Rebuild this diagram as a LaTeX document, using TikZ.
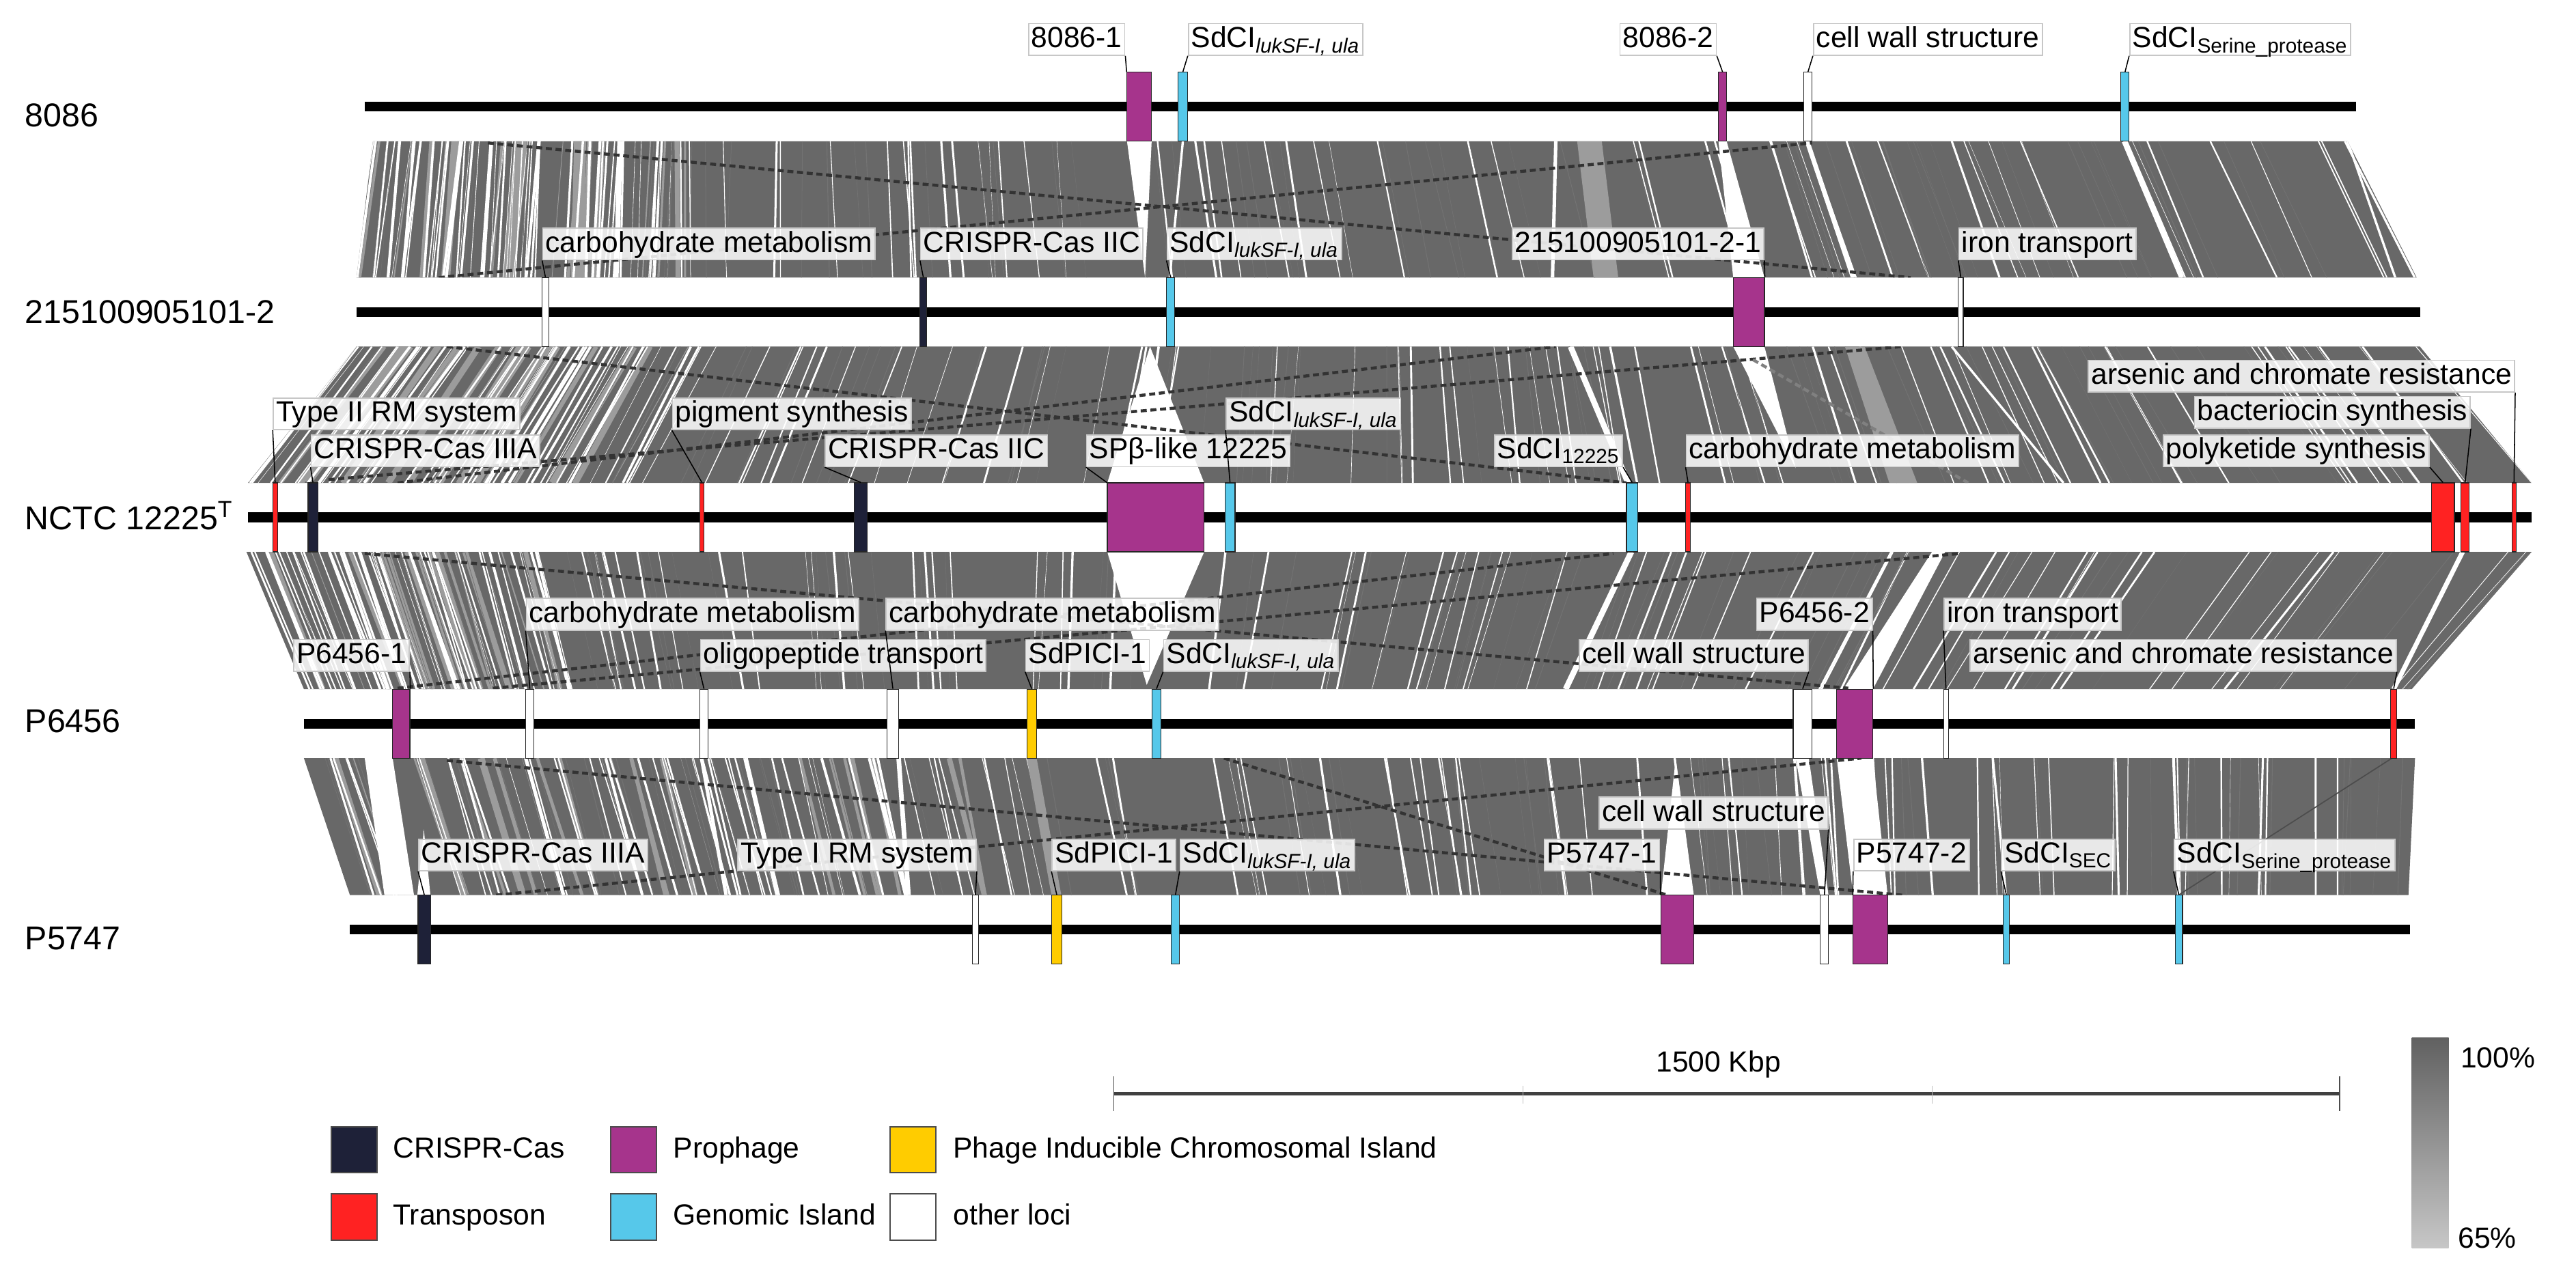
\documentclass[tikz,border=0pt]{standalone}
\usepackage{fontspec}
\setmainfont{Liberation Sans}
\definecolor{navy}{HTML}{1E2138}
\definecolor{phage}{HTML}{A6348C}
\definecolor{pici}{HTML}{FFCC00}
\definecolor{transp}{HTML}{FF2222}
\definecolor{gisl}{HTML}{56C8EA}
\definecolor{bandg}{HTML}{686868}
\definecolor{bandl}{HTML}{9C9C9C}
\tikzset{
 feat/.style={draw=black!85, line width=0.35pt, inner sep=0pt, minimum height=1.05cm},
 lab/.style={fill=white, fill opacity=0.85, text opacity=1, draw=black!22, line width=0.5pt,
   inner xsep=1.2pt, inner ysep=0.8pt, text height=9.5pt, text depth=2.6pt,
   font=\fontsize{12.6}{14}\selectfont},
 lead/.style={draw=black, line width=0.45pt},
 gname/.style={font=\fontsize{14.3}{16}\selectfont, inner sep=0pt, anchor=base west},
 trackbar/.style={line width=4.2pt, black},
 dline/.style={draw=black!80, line width=1.3pt, dash pattern=on 2.6pt off 1.6pt},
 legbox/.style={draw=black!70, line width=0.6pt, minimum width=0.7cm, minimum height=0.7cm, inner sep=0pt},
 legtxt/.style={font=\fontsize{12.6}{14}\selectfont, anchor=west, inner sep=0pt, text height=9.5pt, text depth=2.6pt},
 pct/.style={font=\fontsize{12.6}{14}\selectfont, anchor=base west, inner sep=0pt},
}
% #1 ytop #2 ybot #3 lo #4 hi #5 x0top #6 x0bot #7 slope #8 count #9 max width
\newcommand\mystripes[9]{%
 \foreach \k in {1,...,#8}{%
  \pgfmathsetmacro{\sxt}{#3+rnd*(#4-#3)}%
  \pgfmathsetmacro{\sxb}{#6+(\sxt-#5)*#7+(rnd-0.5)*6}%
  \pgfmathsetmacro{\sw}{0.1+rnd*#9}%
  \draw[line width=\sw pt] (\sxt,#1) -- (\sxb,#2);%
 }}
\newcommand\feat[5]{\node[feat,fill=#5,minimum width={(#3-#2)*0.025cm}] (#1) at ({(#2+#3)/2},#4) {};}
\newcommand\sdci[1]{SdCI\textsubscript{#1}}
\begin{document}
\begin{tikzpicture}[x=0.025cm,y=-0.025cm]
\useasboundingbox (0,0) rectangle (1568,775);
\pgfmathsetseed{7}

% ---------- Band A : 8086 -> 215100905101-2
\begin{scope}
\clip (227,86) -- (1429,86) -- (1471,169) -- (217,169) -- cycle;
\fill[bandg] (200,80) rectangle (1500,175);
\begin{scope}[bandl]\mystripes{86}{169}{230}{420}{227}{217}{1.0433}{25}{3}\end{scope}
\begin{scope}[white]
\mystripes{86}{169}{227}{1429}{227}{217}{1.0433}{70}{0.9}
\mystripes{86}{169}{227}{420}{227}{217}{1.0433}{40}{1.2}
\end{scope}
\begin{scope}[black!55]\mystripes{86}{169}{227}{1429}{227}{217}{1.0433}{60}{0.25}\end{scope}
\fill[bandl] (960,86) -- (975,86) -- (985,169) -- (970,169) -- cycle;
\fill[white] (686,86) -- (701,86) -- (697,169) -- cycle;
\fill[white] (1046,86) -- (1051,86) -- (1074,169) -- (1055,169) -- cycle;
\draw[white,line width=2pt] (1100,86) -- (1128,169);
\draw[white,line width=2.2pt] (1293,86) -- (1328,169);
\draw[white,line width=1.5pt] (947,86) -- (945,169);
\draw[white,line width=1pt] (720,86) -- (712,169);
\draw[white,line width=1pt] (1429,86) -- (1458,169);
\draw[dline] (297,87) -- (1163,169);
\draw[dline] (267,169) -- (1103,87);
\end{scope}

% ---------- Band B : 215100905101-2 -> NCTC
\begin{scope}
\clip (217,211) -- (1473,211) -- (1541,294) -- (151,294) -- cycle;
\fill[bandg] (140,205) rectangle (1550,300);
\begin{scope}[bandl]\mystripes{211}{294}{217}{420}{217}{152}{1.1059}{25}{3}\end{scope}
\begin{scope}[white]
\mystripes{211}{294}{217}{1473}{217}{152}{1.1059}{75}{0.9}
\mystripes{211}{294}{217}{450}{217}{152}{1.1059}{40}{1.2}
\end{scope}
\begin{scope}[black!55]\mystripes{211}{294}{217}{1473}{217}{152}{1.1059}{60}{0.25}\end{scope}
\fill[bandl] (1123,211) -- (1135,211) -- (1167,294) -- (1150,294) -- cycle;
\fill[white] (700,211) -- (733,294) -- (674,294) -- cycle;
\fill[white] (1055,211) -- (1074,211) -- (1093,285) -- cycle;
\draw[white,line width=2.5pt] (956,211) -- (991,294);
\draw[white,line width=1pt] (1188,211) -- (1256,294);
\draw[dline] (272,211) -- (990,294);
\draw[dline] (242,294) -- (947,211);
\draw[dline] (200,292) -- (1158,211);
\draw[dline,draw=black!50] (1067,219) -- (1198,294);
\end{scope}

% ---------- Band C : NCTC -> P6456
\begin{scope}
\clip (150,336) -- (1541,336) -- (1468,419.6) -- (185,419.6) -- cycle;
\fill[bandg] (140,330) rectangle (1550,425);
\begin{scope}[bandl]\mystripes{336}{419.6}{150}{330}{150}{185}{0.9224}{20}{3}\end{scope}
\begin{scope}[white]
\mystripes{336}{419.6}{150}{1541}{150}{185}{0.9224}{75}{0.9}
\mystripes{336}{419.6}{150}{330}{150}{185}{0.9224}{40}{1.2}
\end{scope}
\begin{scope}[black!55]\mystripes{336}{419.6}{150}{1541}{150}{185}{0.9224}{60}{0.25}\end{scope}
\fill[white] (674,336) -- (733,336) -- (698,417) -- cycle;
\fill[white] (1176,336) -- (1184,336) -- (1140,419.6) -- (1122,419.6) -- cycle;
\draw[white,line width=2.5pt] (993,336) -- (953,419.6);
\draw[white,line width=2pt] (1499,336) -- (1457,419.6);
\draw[dline] (222,337) -- (1125,419);
\draw[dline] (242,419) -- (982,337);
\draw[dline] (300,419) -- (1193,337);
\end{scope}

% ---------- Band D : P6456 -> P5747
\begin{scope}
\clip (185,461.6) -- (1470,461.6) -- (1466,545) -- (213,545) -- cycle;
\fill[bandg] (180,455) rectangle (1480,550);
\begin{scope}[bandl]\mystripes{461.6}{545}{185}{620}{185}{213}{0.9759}{25}{3}\end{scope}
\begin{scope}[white]
\mystripes{461.6}{545}{185}{1470}{185}{213}{0.9759}{70}{0.9}
\mystripes{461.6}{545}{250}{620}{185}{213}{0.9759}{40}{1.2}
\end{scope}
\begin{scope}[black!55]\mystripes{461.6}{545}{185}{1470}{185}{213}{0.9759}{60}{0.25}\end{scope}
\fill[bandl] (625,461.6) -- (631,461.6) -- (646,545) -- (640,545) -- cycle;
\fill[white] (222,461.6) -- (239,461.6) -- (252,545) -- (234,545) -- cycle;
\fill[white] (254,545) -- (262,545) -- (258,505) -- cycle;
\fill[white] (1011,545) -- (1031,545) -- (1020,461.6) -- cycle;
\fill[white] (1118,461.6) -- (1140,461.6) -- (1149,545) -- (1128,545) -- cycle;
\fill[white] (1093,461.6) -- (1101,461.6) -- (1113,545) -- (1108,545) -- cycle;
\draw[white,line width=1pt] (1213,461.6) -- (1221,545);
\draw[white,line width=1.2pt] (1323,461.6) -- (1326,545);
\draw[white,line width=2pt] (547,461.6) -- (553,545);
\draw[white,line width=1.5pt] (320,461.6) -- (343,545);
\draw[white,line width=1.5pt] (427,461.6) -- (442,545);
\draw[dline] (272,463) -- (1158,545);
\draw[dline] (302,545) -- (1133,461.6);
\draw[dline] (745,461.6) -- (1015,545);
\draw[black!70,line width=0.5pt] (1456,461.6) -- (1326,545);
\end{scope}

% ---------- tracks
\draw[trackbar] (222,65) -- (1434,65);
\draw[trackbar] (217,190) -- (1473,190);
\draw[trackbar] (151,315) -- (1541,315);
\draw[trackbar] (185,440.6) -- (1470,440.6);
\draw[trackbar] (213,566) -- (1467,566);

% ---------- features
\feat{a1}{686}{701}{65}{phage}
\feat{a2}{717}{723}{65}{gisl}
\feat{a3}{1046}{1051}{65}{phage}
\feat{a4}{1098}{1103}{65}{white}
\feat{a5}{1291}{1296}{65}{gisl}

\feat{b1}{330}{334}{190}{white}
\feat{b2}{560}{564}{190}{navy}
\feat{b3}{710}{715}{190}{gisl}
\feat{b4}{1055}{1074}{190}{phage}
\feat{b5}{1192}{1195}{190}{white}

\feat{c1}{166}{169}{315}{transp}
\feat{c2}{187.5}{193.5}{315}{navy}
\feat{c3}{426}{428.5}{315}{transp}
\feat{c4}{520}{528}{315}{navy}
\feat{c5}{674}{733}{315}{phage}
\feat{c6}{745.6}{751.8}{315}{gisl}
\feat{c7}{990}{997}{315}{gisl}
\feat{c8}{1026}{1029}{315}{transp}
\feat{c9}{1480}{1494}{315}{transp}
\feat{c10}{1498}{1503}{315}{transp}
\feat{c11}{1529}{1531.5}{315}{transp}

\feat{d1}{239}{249.5}{440.6}{phage}
\feat{d2}{320}{325}{440.6}{white}
\feat{d3}{426}{431}{440.6}{white}
\feat{d4}{540}{547}{440.6}{white}
\feat{d5}{625}{631}{440.6}{pici}
\feat{d6}{701.4}{706.5}{440.6}{gisl}
\feat{d7}{1091.5}{1103}{440.6}{white}
\feat{d8}{1118}{1140}{440.6}{phage}
\feat{d9}{1183}{1186}{440.6}{white}
\feat{d10}{1455}{1459}{440.6}{transp}

\feat{e1}{254.5}{262}{566}{navy}
\feat{e2}{592}{595.5}{566}{white}
\feat{e3}{640}{646.5}{566}{pici}
\feat{e4}{713}{718}{566}{gisl}
\feat{e5}{1011}{1031}{566}{phage}
\feat{e6}{1108}{1113}{566}{white}
\feat{e7}{1128}{1149}{566}{phage}
\feat{e8}{1219.5}{1223}{566}{gisl}
\feat{e9}{1324}{1328.5}{566}{gisl}

% ---------- genome names
\node[gname] (g1) at (15,77) {8086};
\node[gname] (g2) at (15,197) {215100905101-2};
\node[gname] (g3) at (15,322.5) {NCTC 12225\textsuperscript{T}};
\node[gname] (g4) at (15,446) {P6456};
\node[gname] (g5) at (15,578) {P5747};

% ---------- labels 8086
\node[lab,anchor=south east] (La1) at (685,34) {8086-1};
\node[lab,anchor=south west] (La2) at (723,34) {\sdci{\itshape lukSF-I, ula}};
\node[lab,anchor=south east] (La3) at (1045,34) {8086-2};
\node[lab,anchor=south west] (La4) at (1103.5,34) {cell wall structure};
\node[lab,anchor=south west] (La5) at (1296,34) {\sdci{Serine\_protease}};
\draw[lead] (La1.south east) -- (a1.north west);
\draw[lead] (La2.south west) -- (a2.north);
\draw[lead] (La3.south east) -- (a3.north);
\draw[lead] (La4.south west) -- (a4.north);
\draw[lead] (La5.south west) -- (a5.north);

% ---------- labels 215100905101-2
\node[lab,anchor=south west] (Lb1) at (330,158.6) {carbohydrate metabolism};
\node[lab,anchor=south west] (Lb2) at (560,158.6) {CRISPR-Cas IIC};
\node[lab,anchor=south west] (Lb3) at (710,158.6) {\sdci{\itshape lukSF-I, ula}};
\node[lab,anchor=south east] (Lb4) at (1074,158.6) {215100905101-2-1};
\node[lab,anchor=south west] (Lb5) at (1192,158.6) {iron transport};
\draw[lead] (Lb1.south west) -- (b1.north);
\draw[lead] (Lb2.south west) -- (b2.north);
\draw[lead] (Lb3.south west) -- (b3.north);
\draw[lead] (Lb4.south east) -- (b4.north east);
\draw[lead] (Lb5.south west) -- (b5.north);

% ---------- labels NCTC
\node[lab,anchor=south west] (Lc1) at (166,262) {Type II RM system};
\node[lab,anchor=south west] (Lc2) at (189,284.5) {CRISPR-Cas IIIA};
\node[lab,anchor=south west] (Lc3) at (409,262) {pigment synthesis};
\node[lab,anchor=south west] (Lc4) at (502,284.5) {CRISPR-Cas IIC};
\node[lab,anchor=south west] (Lc5) at (661,284.5) {SPβ-like 12225};
\node[lab,anchor=south west] (Lc6) at (746,262) {\sdci{\itshape lukSF-I, ula}};
\node[lab,anchor=south east] (Lc7) at (988,284.5) {\sdci{12225}};
\node[lab,anchor=south west] (Lc8) at (1026,284.5) {carbohydrate metabolism};
\node[lab,anchor=south east] (Lc11) at (1531,239) {arsenic and chromate resistance};
\node[lab,anchor=south east] (Lc10) at (1504,261) {bacteriocin synthesis};
\node[lab,anchor=south east] (Lc9) at (1479,284.5) {polyketide synthesis};
\draw[lead] (Lc1.south west) -- (c1.north);
\draw[lead] (Lc2.south west) -- (c2.north);
\draw[lead] (Lc3.south west) -- (c3.north);
\draw[lead] (Lc4.south west) -- (c4.north);
\draw[lead] (Lc5.south west) -- (c5.north west);
\draw[lead] (Lc6.south west) -- (c6.north);
\draw[lead] (Lc7.south east) -- (c7.north);
\draw[lead] (Lc8.south west) -- (c8.north);
\draw[lead] (Lc11.south east) -- (c11.north);
\draw[lead] (Lc10.south east) -- (c10.north);
\draw[lead] (Lc9.south east) -- (c9.north);

% ---------- labels P6456
\node[lab,anchor=south west] (Ld2) at (320,384) {carbohydrate metabolism};
\node[lab,anchor=south west] (Ld4) at (539,384) {carbohydrate metabolism};
\node[lab,anchor=south east] (Ld8) at (1140,384) {P6456-2};
\node[lab,anchor=south west] (Ld9) at (1183,384) {iron transport};
\node[lab,anchor=south east] (Ld1) at (249.5,409) {P6456-1};
\node[lab,anchor=south west] (Ld3) at (426,409) {oligopeptide transport};
\node[lab,anchor=south west] (Ld5) at (624,409) {SdPICI-1};
\node[lab,anchor=south west] (Ld6) at (708,409) {\sdci{\itshape lukSF-I, ula}};
\node[lab,anchor=south east] (Ld7) at (1101,409) {cell wall structure};
\node[lab,anchor=south east] (Ld10) at (1459,409) {arsenic and chromate resistance};
\draw[lead] (Ld2.south west) -- (d2.north);
\draw[lead] (Ld4.south west) -- (d4.north);
\draw[lead] (Ld8.south east) -- (d8.north east);
\draw[lead] (Ld9.south west) -- (d9.north);
\draw[lead] (Ld1.south east) -- (d1.north east);
\draw[lead] (Ld3.south west) -- (d3.north);
\draw[lead] (Ld5.south west) -- (d5.north);
\draw[lead] (Ld6.south west) -- (d6.north);
\draw[lead] (Ld7.south east) -- (d7.north);
\draw[lead] (Ld10.south east) -- (d10.north);

% ---------- labels P5747
\node[lab,anchor=south west] (Le1) at (254.5,530.6) {CRISPR-Cas IIIA};
\node[lab,anchor=south east] (Le2) at (594.6,530.6) {Type I RM system};
\node[lab,anchor=south west] (Le3) at (640,530.6) {SdPICI-1};
\node[lab,anchor=south west] (Le4) at (718,530.6) {\sdci{\itshape lukSF-I, ula}};
\node[lab,anchor=south east] (Le5) at (1010.6,530.6) {P5747-1};
\node[lab,anchor=south east] (Le6) at (1113,505) {cell wall structure};
\node[lab,anchor=south west] (Le7) at (1128,530.6) {P5747-2};
\node[lab,anchor=south west] (Le8) at (1218,530.6) {\sdci{SEC}};
\node[lab,anchor=south west] (Le9) at (1323,530.6) {\sdci{Serine\_protease}};
\draw[lead] (Le1.south west) -- (e1.north);
\draw[lead] (Le2.south east) -- (e2.north);
\draw[lead] (Le3.south west) -- (e3.north);
\draw[lead] (Le4.south west) -- (e4.north);
\draw[lead] (Le5.south east) -- (e5.north west);
\draw[lead] (Le6.south east) -- (e6.north);
\draw[lead] (Le7.south west) -- (e7.north west);
\draw[lead] (Le8.south west) -- (e8.north);
\draw[lead] (Le9.south west) -- (e9.north);

% ---------- legend
\node[legbox,fill=navy] (k1) at (215.7,700) {};
\node[legtxt] (t1) at (239,700) {CRISPR-Cas};
\node[legbox,fill=phage] (k2) at (385.7,700) {};
\node[legtxt] (t2) at (409.6,700) {Prophage};
\node[legbox,fill=pici] (k3) at (555.7,700) {};
\node[legtxt] (t3) at (580,700) {Phage Inducible Chromosomal Island};
\node[legbox,fill=transp] (k4) at (215.7,741) {};
\node[legtxt] (t4) at (239,741) {Transposon};
\node[legbox,fill=gisl] (k5) at (385.7,741) {};
\node[legtxt] (t5) at (409.6,741) {Genomic Island};
\node[legbox,fill=white] (k6) at (555.7,741) {};
\node[legtxt] (t6) at (580,741) {other loci};

% ---------- scale bar
\coordinate (s1) at (678,666);
\coordinate (s2) at (1424,666);
\draw[line width=1.4pt, black!75] (s1) -- (s2);
\draw[line width=0.5pt, black!70] (678,655.5) -- (678,676.5);
\draw[line width=0.5pt, black!70] (1424,655.5) -- (1424,676.5);
\draw[line width=0.4pt, black!25] (927,661) -- (927,672);
\draw[line width=0.4pt, black!25] (1176,661) -- (1176,672);
\node[font=\fontsize{12.6}{14}\selectfont, inner sep=0pt] (sb) at (1046,648) {1500 Kbp};

% ---------- identity gradient
\shade[top color=black!62, bottom color=black!22] (1468,632) rectangle (1490.5,760);
\node[pct] (p100) at (1497.5,650) {100\%};
\node[pct] (p65) at (1496,760) {65\%};
\end{tikzpicture}
\end{document}
